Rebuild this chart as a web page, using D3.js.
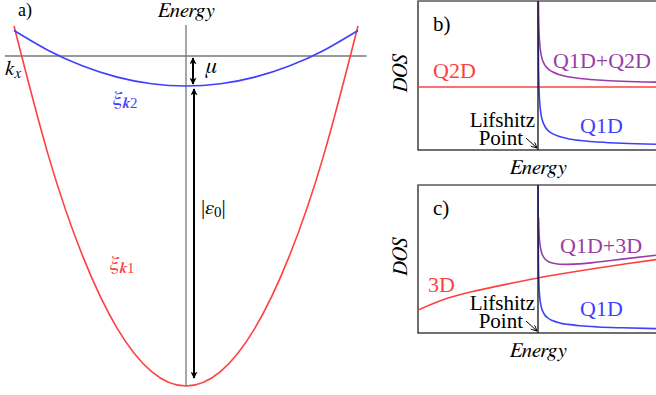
<!DOCTYPE html>
<html><head><meta charset="utf-8">
<script src="https://cdn.jsdelivr.net/npm/d3@7"></script>
<style>body{margin:0;background:#fff}svg{display:block}</style>
</head><body><svg id="c" width="656" height="395"></svg>
<script>
// ---------- data ----------
// panel a: band dispersions (k, energy in units of mu)
const kPts = [-1, -0.8, -0.6, -0.4, -0.2, 0, 0.2, 0.4, 0.6, 0.8, 1];
const band1 = [1, -3.32, -6.68, -9.08, -10.52, -11, -10.52, -9.08, -6.68, -3.32, 1];
const band2 = [0.85, 0.184, -0.334, -0.704, -0.926, -1, -0.926, -0.704, -0.334, 0.184, 0.85];
const mu = 1, eps0 = 10;
// panels b, c: density of states vs energy (Lifshitz point at 0)
const eQ1D = [0.0005, 0.001, 0.002, 0.004, 0.007, 0.01, 0.015, 0.02, 0.03, 0.05, 0.08, 0.12, 0.18, 0.25, 0.35, 0.5, 0.7, 1.0];
const q1dB = [1.7, 1.2, 0.85, 0.60, 0.454, 0.38, 0.31, 0.269, 0.219, 0.170, 0.134, 0.110, 0.090, 0.076, 0.064, 0.054, 0.045, 0.038];
const sumB = [2.0, 1.5, 1.2, 0.98, 0.84, 0.77, 0.71, 0.67, 0.625, 0.58, 0.548, 0.525, 0.505, 0.492, 0.480, 0.470, 0.461, 0.455];
const eQ2D = [-1, 1];
const q2dB = [0.423, 0.423];
const q1dC = [1.3, 0.92, 0.65, 0.46, 0.35, 0.29, 0.237, 0.205, 0.167, 0.130, 0.103, 0.084, 0.068, 0.058, 0.049, 0.041, 0.035, 0.029];
const eSumC = [0.005, 0.007, 0.01, 0.015, 0.02, 0.03, 0.05, 0.08, 0.12, 0.18, 0.25, 0.35, 0.5, 0.7, 1.0];
const sumC = [0.78, 0.72, 0.66, 0.61, 0.58, 0.543, 0.509, 0.486, 0.473, 0.465, 0.464, 0.467, 0.480, 0.499, 0.527];
const e3D = [-1, -0.75, -0.5, -0.25, 0, 0.25, 0.5, 0.75, 1.0];
const d3C = [0.155, 0.236, 0.288, 0.332, 0.372, 0.407, 0.439, 0.470, 0.498];

const RED = "#ff4040", BLUE = "#3f3fff", PURPLE = "#9a3ca8", GRAY = "#777";
const ROMAN = '"Liberation Serif"', ITAL = '"FreeSerif"';
const svg = d3.select("#c");
const defs = svg.append("defs");
defs.append("marker").attr("id", "ah").attr("viewBox", "0 0 10 10").attr("refX", 9).attr("refY", 5)
  .attr("markerWidth", 10).attr("markerHeight", 7).attr("markerUnits", "userSpaceOnUse")
  .attr("orient", "auto-start-reverse")
  .append("path").attr("d", "M0,0 L10,5 L0,10 L2.5,5 Z").attr("fill", "#000");
defs.append("marker").attr("id", "ahs").attr("viewBox", "0 0 10 10").attr("refX", 10).attr("refY", 5)
  .attr("markerWidth", 7).attr("markerHeight", 6).attr("markerUnits", "userSpaceOnUse")
  .attr("orient", "auto")
  .append("path").attr("d", "M0,0 L10,5 L0,10").attr("fill", "none").attr("stroke", "#000").attr("stroke-width", 1.5);

function txt(parent, x, y, size, italic) {
  const t = parent.append("text").attr("x", x).attr("y", y).attr("font-size", size)
    .style("font-family", italic ? ITAL : ROMAN);
  if (italic) t.style("font-style", "italic");
  return t;
}
function ital(t) { return t.style("font-family", ITAL).style("font-style", "italic"); }

// ---------- panel a ----------
const xa = d3.scaleLinear().domain([-1, 1]).range([14, 358]);
const ya = d3.scaleLinear().domain([0, -(mu + eps0)]).range([56, 386]);
const ga = svg.append("g");
ga.append("line").attr("x1", xa(-1.053)).attr("x2", xa(1.05)).attr("y1", ya(0)).attr("y2", ya(0))
  .attr("stroke", GRAY).attr("stroke-width", 1.3);
ga.append("line").attr("x1", xa(0)).attr("x2", xa(0)).attr("y1", ya(1.03)).attr("y2", ya(-(mu + eps0)))
  .attr("stroke", GRAY).attr("stroke-width", 1.3);
const lineA = d3.line().x((d, i) => xa(kPts[i])).y(d => ya(d)).curve(d3.curveNatural);
ga.append("path").attr("d", lineA(band1)).attr("fill", "none").attr("stroke", RED).attr("stroke-width", 1.6);
ga.append("path").attr("d", lineA(band2)).attr("fill", "none").attr("stroke", BLUE).attr("stroke-width", 1.6);
// arrows
ga.append("line").attr("x1", xa(0) + 7).attr("x2", xa(0) + 7).attr("y1", ya(0) + 2).attr("y2", ya(-mu) - 2)
  .attr("stroke", "#000").attr("stroke-width", 2).attr("marker-start", "url(#ah)").attr("marker-end", "url(#ah)");
ga.append("line").attr("x1", xa(0) + 8).attr("x2", xa(0) + 8).attr("y1", ya(-mu) + 3).attr("y2", ya(-(mu + eps0)) - 8)
  .attr("stroke", "#000").attr("stroke-width", 2).attr("marker-start", "url(#ah)").attr("marker-end", "url(#ah)");
txt(ga, 18, 16, 18).text("a)");
txt(ga, xa(0), 17, 21, true).attr("text-anchor", "middle").text("Energy");
const kx = txt(ga, 5, 75, 21, true);
kx.append("tspan").text("k");
kx.append("tspan").attr("font-size", 15).attr("dy", 3).text("x");
txt(ga, 206, 73, 22, true).text("μ");
function xiLabel(x, y, color, n) {
  const t = txt(ga, x, y, 21).attr("fill", color);
  ital(t.append("tspan")).text("ξ");
  ital(t.append("tspan")).attr("font-size", 15).attr("dy", 3).attr("font-weight", "bold").text("k");
  t.append("tspan").attr("font-size", 15).text(n);
}
xiLabel(113, 105, BLUE, "2");
xiLabel(110, 270, RED, "1");
const ep = txt(ga, 201, 214, 21);
ep.append("tspan").text("|");
ital(ep.append("tspan")).text("ε");
ep.append("tspan").attr("font-size", 15).attr("dy", 3).text("0");
ep.append("tspan").attr("dy", -3).text("|");

// ---------- panels b, c ----------
function dosPanel(top, bottom, label, cfg) {
  const x = d3.scaleLinear().domain([-1, 1]).range([418, 658]);
  const y = d3.scaleLinear().domain([0, 1]).range([bottom, top]);
  const g = svg.append("g");
  const cid = "clip" + label;
  defs.append("clipPath").attr("id", cid).append("rect")
    .attr("x", 418).attr("y", top).attr("width", 260).attr("height", bottom - top);
  g.append("rect").attr("x", 418).attr("y", top).attr("width", 260).attr("height", bottom - top)
    .attr("fill", "none").attr("stroke", "#222").attr("stroke-width", 1.3);
  g.append("line").attr("x1", 418).attr("x2", 660).attr("y1", top).attr("y2", top).attr("stroke", "#888").attr("stroke-width", 1.6);
  const cg = g.append("g").attr("clip-path", `url(#${cid})`);
  const line = (xs) => d3.line().x((d, i) => x(xs[i])).y(d => y(d)).curve(d3.curveMonotoneX);
  cg.append("path").attr("d", line(cfg.eOther)(cfg.other)).attr("fill", "none").attr("stroke", RED).attr("stroke-width", 1.6);
  cg.append("path").attr("d", line(eQ1D)(cfg.q1d)).attr("fill", "none").attr("stroke", BLUE).attr("stroke-width", 1.6);
  cg.append("path").attr("d", line(cfg.eSum)(cfg.sum)).attr("fill", "none").attr("stroke", PURPLE).attr("stroke-width", 1.6);
  g.append("line").attr("x1", x(0)).attr("x2", x(0)).attr("y1", top).attr("y2", bottom).attr("stroke", "#111").attr("stroke-width", 1.3);
  txt(g, 433, top + 30, 21).text(label + ")");
  txt(g, cfg.otherLab[0], cfg.otherLab[1], 22).attr("fill", RED).text(cfg.otherName);
  txt(g, cfg.sumLab[0], cfg.sumLab[1], 22).attr("fill", PURPLE).text("Q1D+" + cfg.otherName);
  txt(g, 580, bottom - 17, 22).attr("fill", BLUE).text("Q1D");
  txt(g, 535, bottom - 23, 21).attr("text-anchor", "end").text("Lifshitz");
  txt(g, 523, bottom - 5, 21).attr("text-anchor", "end").text("Point");
  g.append("line").attr("x1", 526).attr("y1", bottom - 12).attr("x2", x(0) - 1).attr("y2", bottom - 2)
    .attr("stroke", "#000").attr("stroke-width", 1).attr("marker-end", "url(#ahs)");
  txt(g, 0, 0, 21, true).attr("transform", `translate(407,${(top + bottom) / 2 - 2}) rotate(-90)`).attr("text-anchor", "middle")
    .text("DOS");
  txt(g, x(0), bottom + 24, 21, true).attr("text-anchor", "middle").text("Energy");
}
dosPanel(1, 150, "b", { eOther: eQ2D, other: q2dB, q1d: q1dB, eSum: eQ1D, sum: sumB, otherName: "Q2D", otherLab: [433, 78], sumLab: [553, 68] });
dosPanel(185, 333, "c", { eOther: e3D, other: d3C, q1d: q1dC, eSum: eSumC, sum: sumC, otherName: "3D", otherLab: [428, 292], sumLab: [560, 253] });
</script></body></html>
